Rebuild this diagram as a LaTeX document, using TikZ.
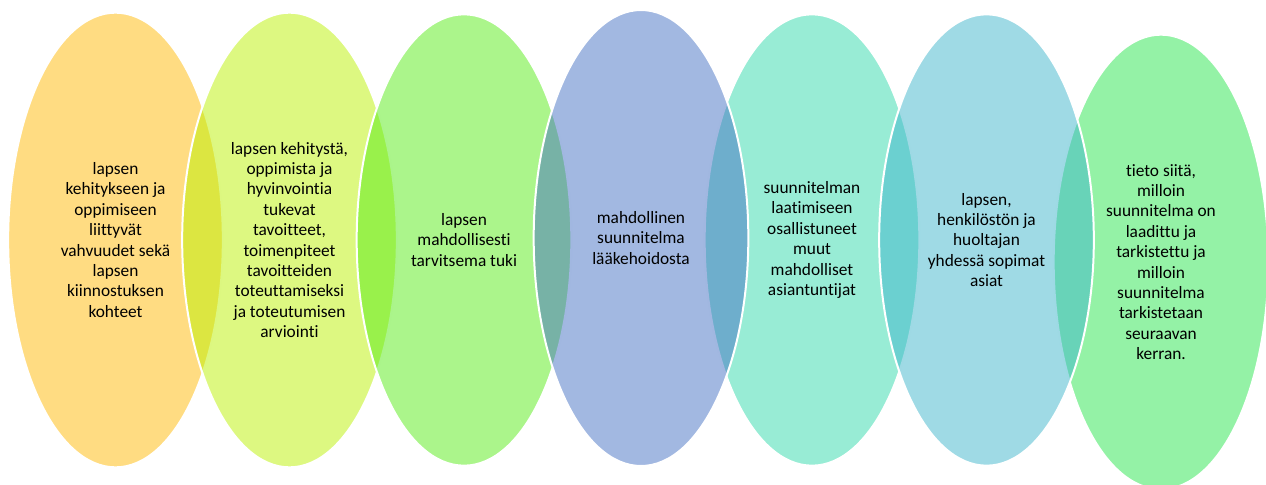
\documentclass[tikz,border=0pt]{standalone}
\usepackage{fontspec}
\setmainfont{Carlito}[Ligatures={NoCommon}]
\usepackage{tikz}
\usetikzlibrary{shapes.geometric}
\usepackage{xcolor}

\definecolor{ovalOrange}{RGB}{255,185,5}
\definecolor{ovalLime}{RGB}{187,241,3}
\definecolor{ovalGreen}{RGB}{87,235,23}
\definecolor{ovalBlue}{RGB}{69,113,195}
\definecolor{ovalTeal}{RGB}{49,217,171}
\definecolor{ovalSky}{RGB}{63,181,203}
\definecolor{ovalMint}{RGB}{41,229,77}

\begin{document}
\begin{tikzpicture}[x=0.75pt,y=0.75pt,yscale=-1,xscale=1,
  oval/.style={ellipse, minimum width=161pt, minimum height=341pt, inner sep=0pt,
    fill opacity=0.5, draw=white, draw opacity=1, line width=1.5pt},
  caption/.style={align=center, inner sep=0.75pt, text=black,
    font=\fontsize{13}{15.3}\selectfont}]
%set diagram size 1266 x 485
\path [use as bounding box, clip] (0,0) rectangle (1266,485);

%Shape: Ellipse [id:oval1]
\node [oval, fill=ovalOrange] (oval1) at (115.5,240) {};
%Shape: Ellipse [id:oval2]
\node [oval, fill=ovalLime] (oval2) at (289.5,240) {};
%Shape: Ellipse [id:oval3]
\node [oval, fill=ovalGreen, minimum height=338.5pt] (oval3) at (464,240) {};
%Shape: Ellipse [id:oval5]
\node [oval, fill=ovalTeal, minimum height=338.5pt] (oval5) at (812,240) {};
%Shape: Ellipse [id:oval7]
\node [oval, fill=ovalMint] (oval7) at (1161,262) {};
%Shape: Ellipse [id:oval4]
\node [oval, fill=ovalBlue, minimum height=342pt] (oval4) at (641,238) {};
%Shape: Ellipse [id:oval6]
\node [oval, fill=ovalSky, minimum height=338.5pt] (oval6) at (986.5,240) {};

% Text Node
\node [caption] (text1) at (oval1.center) {lapsen\\kehitykseen ja\\oppimiseen\\liittyvät\\vahvuudet sekä\\lapsen\\kiinnostuksen\\kohteet};
% Text Node
\node [caption] (text2) at (oval2.center) {lapsen kehitystä,\\oppimista ja\\hyvinvointia\\tukevat\\tavoitteet,\\toimenpiteet\\tavoitteiden\\toteuttamiseksi\\ja toteutumisen\\arviointi};
% Text Node
\node [caption] (text3) at (oval3.center) {lapsen\\mahdollisesti\\tarvitsema tuki};
% Text Node
\node [caption] (text4) at (oval4.center) {mahdollinen\\suunnitelma\\lääkehoidosta};
% Text Node
\node [caption] (text5) at (oval5.center) {suunnitelman\\laatimiseen\\osallistuneet\\muut\\mahdolliset\\asiantuntijat};
% Text Node
\node [caption] (text6) at (oval6.center) {lapsen,\\henkilöstön ja\\huoltajan\\yhdessä sopimat\\asiat};
% Text Node
\node [caption] (text7) at (oval7.center) {tieto siitä,\\milloin\\suunnitelma on\\laadittu ja\\tarkistettu ja\\milloin\\suunnitelma\\tarkistetaan\\seuraavan\\kerran.};

\end{tikzpicture}
\end{document}
